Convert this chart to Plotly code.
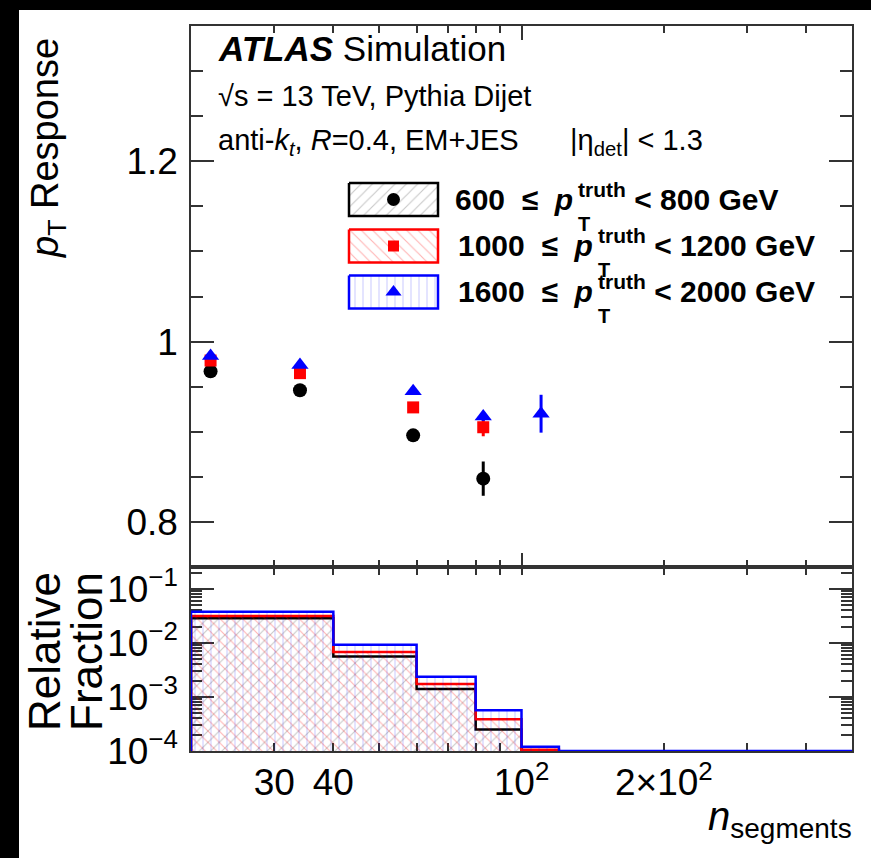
import plotly.graph_objects as go
import numpy as np

# ---------------- data ----------------
resp_x_600 = [22, 34, 59, 83]
resp_y_600 = [0.967, 0.946, 0.896, 0.848]
resp_e_600 = [0.003, 0.003, 0.003, 0.019]

resp_x_1000 = [22, 34, 59, 83]
resp_y_1000 = [0.979, 0.965, 0.927, 0.905]
resp_e_1000 = [0.002, 0.002, 0.003, 0.010]

resp_x_1600 = [22, 34, 59, 83, 110]
resp_y_1600 = [0.984, 0.974, 0.945, 0.917, 0.920]
resp_e_1600 = [0.002, 0.002, 0.003, 0.005, 0.021]

bin_edges = [20, 40, 60, 80, 100, 120, 500]
frac_600 = [0.0286, 0.0056, 0.0014, 0.00025, 0.00009, 0.00009]
frac_1000 = [0.0316, 0.0068, 0.00174, 0.000386, 0.000105, 0.00009]
frac_1600 = [0.038, 0.0093, 0.00238, 0.00057, 0.00012, 0.0001]

x_tick_vals = [30, 40, 100, 200]
x_tick_text = ["30", "40", "10<sup>2</sup>", "2\u00d710<sup>2</sup>"]
x_minor_vals = [30, 40, 50, 60, 70, 80, 90, 200, 300, 400]
y_top_tick_vals = [0.8, 1.0, 1.2]
y_top_tick_text = ["0.8", "1", "1.2"]
y_bot_tick_vals = [1e-4, 1e-3, 1e-2, 1e-1]
y_bot_tick_text = ["10<sup>\u22124</sup>", "10<sup>\u22123</sup>", "10<sup>\u22122</sup>", "10<sup>\u22121</sup>"]

labels = ["600", "1000", "1600"]
labels_hi = ["800", "1200", "2000"]

FONT = "Liberation Sans, Arial, Helvetica, sans-serif"

# ---------------- geometry (pixels) ----------------
W, H = 871, 858
L, R, T, B = 191, 852, 26, 751
SEP = 567
pw, ph = R - L, B - T


def PX(px):
    return (px - L) / pw


def PY(py):
    return (B - py) / ph


split = PY(SEP)

fig = go.Figure()


def step_poly(edges, vals, floor=1e-7):
    xs = [edges[0]]
    ys = [floor]
    for i, v in enumerate(vals):
        xs += [edges[i], edges[i + 1]]
        ys += [v, v]
    xs.append(edges[-1])
    ys.append(floor)
    return xs, ys


# ---------------- bottom panel histograms ----------------
hist_specs = [
    (frac_600, "black", "rgba(0,0,0,0.42)", "/"),
    (frac_1000, "red", "rgba(255,0,0,0.58)", "\\"),
    (frac_1600, "blue", "rgba(0,0,255,0.38)", "|"),
]
for vals, col, pcol, shp in hist_specs:
    xs, ys = step_poly(bin_edges, vals)
    fig.add_trace(go.Scatter(
        x=xs, y=ys, xaxis="x2", yaxis="y2", mode="lines",
        line=dict(color=col, width=2.5), fill="toself",
        fillcolor="rgba(0,0,0,0)",
        fillpattern=dict(shape=shp, fgcolor=pcol, bgcolor="rgba(0,0,0,0)",
                         size=8, solidity=0.14, fillmode="overlay"),
        showlegend=False, hoverinfo="skip"))

# ---------------- top panel points ----------------
pt_specs = [
    (resp_x_600, resp_y_600, resp_e_600, "black", "circle", 14),
    (resp_x_1000, resp_y_1000, resp_e_1000, "red", "square", 12),
    (resp_x_1600, resp_y_1600, resp_e_1600, "blue", "triangle-up", 15),
]
for xs, ys, es, col, sym, sz in pt_specs:
    fig.add_trace(go.Scatter(
        x=xs, y=ys, xaxis="x", yaxis="y", mode="markers",
        marker=dict(color=col, symbol=sym, size=sz),
        error_y=dict(type="data", array=es, color=col, thickness=3, width=0),
        showlegend=False, hoverinfo="skip"))

# ---------------- legend swatches (overlay axes in top panel) ----------------
leg_rows = [199.5, 246, 292]
box_x0, box_x1 = 349, 438
box_h = 33
top_h = SEP - T


def fx(px):
    return (px - L) / pw


def fy(py):
    return (SEP - py) / top_h


for (xs_, ys_, es_, col, sym, sz), (_, _, pcol, shp), yc in zip(pt_specs, hist_specs, leg_rows):
    y0, y1 = yc - box_h / 2, yc + box_h / 2
    fig.add_trace(go.Scatter(
        x=[fx(box_x0), fx(box_x1), fx(box_x1), fx(box_x0), fx(box_x0)],
        y=[fy(y0), fy(y0), fy(y1), fy(y1), fy(y0)],
        xaxis="x3", yaxis="y3", mode="lines", fill="toself",
        fillcolor="rgba(0,0,0,0)",
        line=dict(color=col, width=2.5),
        fillpattern=dict(shape=shp, fgcolor=pcol, bgcolor="rgba(0,0,0,0)",
                         size=8, solidity=0.14, fillmode="overlay"),
        showlegend=False, hoverinfo="skip"))
    fig.add_trace(go.Scatter(
        x=[fx((box_x0 + box_x1) / 2)], y=[fy(yc)], xaxis="x3", yaxis="y3",
        mode="markers", marker=dict(color=col, symbol=sym, size=sz - 1),
        showlegend=False, hoverinfo="skip"))

# ---------------- axes ----------------
axcol = "#333333"
tickcommon = dict(showline=True, linecolor=axcol, linewidth=1.5, ticks="inside",
                  mirror="allticks", tickcolor=axcol, tickwidth=1.5,
                  showgrid=False, zeroline=False,
                  tickfont=dict(family=FONT, size=37, color="black"))

xrange = [np.log10(20), np.log10(500)]

fig.update_layout(
    xaxis=dict(type="log", range=xrange, domain=[0, 1], anchor="y",
               tickvals=[100], ticklen=14, showticklabels=False,
               minor=dict(tickvals=x_minor_vals, ticklen=7, ticks="inside",
                          tickcolor=axcol, tickwidth=1.5),
               **tickcommon),
    yaxis=dict(range=[0.75, 1.35], domain=[split, 1], anchor="x",
               tickvals=y_top_tick_vals, ticktext=y_top_tick_text, ticklen=23,
               ticklabelstandoff=4,
               minor=dict(tickvals=[0.75 + 0.05 * k for k in range(13)], ticklen=12,
                          ticks="inside", tickcolor=axcol, tickwidth=1.5),
               **tickcommon),
    xaxis2=dict(type="log", range=xrange, domain=[0, 1], anchor="y2",
                tickvals=x_tick_vals, ticktext=x_tick_text, ticklen=8,
                ticklabelstandoff=-2, layer="below traces",
                minor=dict(tickvals=x_minor_vals, ticklen=8, ticks="inside",
                           tickcolor=axcol, tickwidth=1.5),
                **tickcommon),
    yaxis2=dict(type="log", range=[-4, np.log10(0.255)], domain=[0, split], anchor="x2",
                tickvals=y_bot_tick_vals, ticktext=y_bot_tick_text, ticklen=23,
                ticklabelstandoff=4, layer="below traces",
                minor=dict(tickvals=[k * 10.0 ** e for e in range(-4, 0) for k in range(2, 10)],
                           ticklen=11, ticks="inside", tickcolor=axcol, tickwidth=1.5),
                **tickcommon),
    xaxis3=dict(range=[0, 1], domain=[0, 1], anchor="y3", overlaying="x", visible=False),
    yaxis3=dict(range=[0, 1], domain=[split, 1], anchor="x3", overlaying="y", visible=False),
)

# ---------------- text ----------------
ann = []


def add(text, px, py, size, xanchor="left", yanchor="middle", angle=0):
    ann.append(dict(text=text, x=PX(px), y=PY(py), xref="paper", yref="paper",
                    xanchor=xanchor, yanchor=yanchor, showarrow=False, textangle=angle,
                    font=dict(family=FONT, size=size, color="black")))


add("<b><i>ATLAS</i></b> Simulation", 216, 48, 35)
add("\u221As = 13 TeV, Pythia Dijet", 216, 96, 29)
add("anti-<i>k</i><sub><i>t</i></sub>, <i>R</i>=0.4, EM+JES", 216, 142, 29)
add("|\u03b7<sub>det</sub>| < 1.3", 568, 142, 29)

p_end = [575, 595, 595]
for lab, hi, yc, pe in zip(labels, labels_hi, leg_rows, p_end):
    add("<b>" + lab + "\u00a0\u00a0\u2264\u00a0\u00a0<i>p</i></b>", pe, yc + 18, 30,
        xanchor="right", yanchor="bottom")
    add("<b><sup>truth</sup>\u00a0< " + hi + " GeV</b>", pe + 1, yc + 18, 30,
        xanchor="left", yanchor="bottom")
    add("<b>T</b>", pe + 1, yc + 24, 20, xanchor="left", yanchor="middle")

add("<i>p</i><sub>T</sub> Response", 48, 148, 38, xanchor="center", angle=-90)
add("Relative", 44, 652, 44, xanchor="center", angle=-90)
add("Fraction", 86, 652, 44, xanchor="center", angle=-90)
add("<i>n</i><sub>segments</sub>", 854, 792, 40, xanchor="right", yanchor="top")

# ---------------- frame background ----------------
shapes = [
    dict(type="rect", xref="paper", yref="paper", x0=PX(19), x1=PX(871), y0=PY(858), y1=PY(10),
         fillcolor="white", line=dict(width=0), layer="below"),
]

fig.update_layout(
    width=W, height=H,
    margin=dict(l=L, r=W - R, t=T, b=H - B, pad=0),
    paper_bgcolor="black", plot_bgcolor="white",
    annotations=ann, shapes=shapes,
    showlegend=False,
    font=dict(family=FONT, color="black"),
)

fig.write_html("out.html")
